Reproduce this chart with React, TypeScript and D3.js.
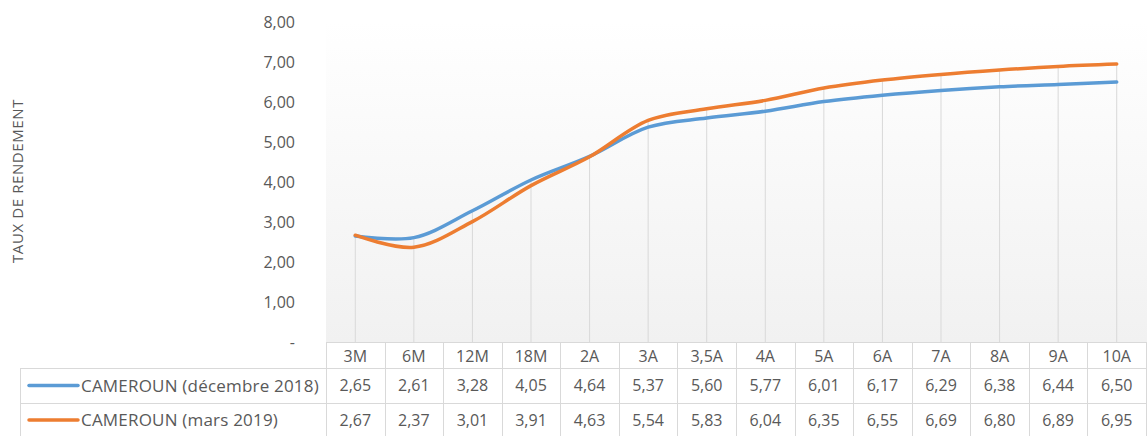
import { useEffect, useRef } from 'react';
import * as d3 from 'd3';

const categories = ['3M', '6M', '12M', '18M', '2A', '3A', '3,5A', '4A', '5A', '6A', '7A', '8A', '9A', '10A'];
const seriesNames = ['CAMEROUN (décembre 2018)', 'CAMEROUN (mars 2019)'];
const dec2018 = [2.65, 2.61, 3.28, 4.05, 4.64, 5.37, 5.6, 5.77, 6.01, 6.17, 6.29, 6.38, 6.44, 6.5];
const mar2019 = [2.67, 2.37, 3.01, 3.91, 4.63, 5.54, 5.83, 6.04, 6.35, 6.55, 6.69, 6.8, 6.89, 6.95];
const yTicks = [0, 1, 2, 3, 4, 5, 6, 7, 8];
const colors = ['#5b9bd5', '#ed7d31'];

const W = 1147;
const H = 436;
const FONT = '"Open Sans", sans-serif';
const TEXT = '#595959';
const GRID = '#d9d9d9';

const fmt = (v: number) => (v === 0 ? '-' : d3.format('.2f')(v).replace('.', ','));

export default function App() {
  const svgRef = useRef<SVGSVGElement>(null);

  useEffect(() => {
    if (!svgRef.current) return;
    const svg = d3.select(svgRef.current);
    svg.selectAll('*').remove();

    const left = 326;
    const top = 22;
    const bottom = 342;
    const tableLeft = 20;
    const rowH = [26, 35, 34];

    const x = d3.scaleBand<string>().domain(categories).range([left, W - 1]).padding(0);
    const y = d3.scaleLinear().domain([0, 8]).range([bottom, top]);
    const cx = (c: string) => (x(c) ?? 0) + x.bandwidth() / 2;

    const defs = svg.append('defs');
    const grad = defs.append('linearGradient').attr('id', 'bg').attr('x1', 0).attr('y1', 0).attr('x2', 0).attr('y2', 1);
    grad.append('stop').attr('offset', '0%').attr('stop-color', '#ffffff');
    grad.append('stop').attr('offset', '100%').attr('stop-color', '#f1f1f1');

    svg.append('rect').attr('x', left).attr('y', top).attr('width', W - left).attr('height', bottom - top).attr('fill', 'url(#bg)');

    // y axis labels
    svg
      .append('g')
      .selectAll('text')
      .data(yTicks)
      .enter()
      .append('text')
      .attr('x', 295)
      .attr('y', (d) => y(d))
      .attr('dy', '0.35em')
      .attr('text-anchor', 'end')
      .style('font-family', FONT)
      .style('font-size', '16px')
      .style('fill', TEXT)
      .text(fmt);

    svg
      .append('text')
      .attr('transform', `translate(23,181) rotate(-90)`)
      .attr('text-anchor', 'middle')
      .style('font-family', FONT)
      .style('font-size', '15px')
      .style('letter-spacing', '0.6px')
      .style('fill', TEXT)
      .text('TAUX DE RENDEMENT');

    // drop lines from the highest point to the axis
    svg
      .append('g')
      .selectAll('line')
      .data(categories)
      .enter()
      .append('line')
      .attr('x1', cx)
      .attr('x2', cx)
      .attr('y1', (_, i) => y(Math.max(dec2018[i], mar2019[i])))
      .attr('y2', bottom)
      .attr('stroke', GRID)
      .attr('stroke-width', 1);

    const line = d3
      .line<number>()
      .x((_, i) => cx(categories[i]))
      .y((d) => y(d))
      .curve(d3.curveCatmullRom.alpha(0.5));

    [dec2018, mar2019].forEach((s, k) => {
      svg
        .append('path')
        .datum(s)
        .attr('d', line)
        .attr('fill', 'none')
        .attr('stroke', colors[k])
        .attr('stroke-width', 3.5)
        .attr('stroke-linecap', 'round');
    });

    // data table
    const t = svg.append('g').attr('stroke', GRID).attr('stroke-width', 1).attr('shape-rendering', 'crispEdges');
    const r0 = bottom;
    const r1 = r0 + rowH[0];
    const r2 = r1 + rowH[1];
    const r3 = r2 + rowH[2];
    t.append('line').attr('x1', left).attr('x2', W).attr('y1', r0 + 0.5).attr('y2', r0 + 0.5);
    [r1, r2, r3].forEach((ry) => t.append('line').attr('x1', tableLeft).attr('x2', W).attr('y1', ry + 0.5).attr('y2', ry + 0.5));
    t.append('line').attr('x1', tableLeft + 0.5).attr('x2', tableLeft + 0.5).attr('y1', r1).attr('y2', r3);
    const bounds = categories.map((c) => x(c) ?? 0).concat([W - 1]);
    t.selectAll('.vb')
      .data(bounds)
      .enter()
      .append('line')
      .attr('x1', (d) => Math.round(d) + 0.5)
      .attr('x2', (d) => Math.round(d) + 0.5)
      .attr('y1', r0)
      .attr('y2', r3);

    const txt = svg.append('g').style('font-family', FONT).style('font-size', '16px').style('fill', TEXT);
    txt
      .selectAll('.cat')
      .data(categories)
      .enter()
      .append('text')
      .attr('x', cx)
      .attr('y', (r0 + r1) / 2 + 1)
      .attr('dy', '0.36em')
      .attr('text-anchor', 'middle')
      .text((d) => d);

    [dec2018, mar2019].forEach((s, k) => {
      const ry = k === 0 ? (r1 + r2) / 2 : (r2 + r3) / 2;
      txt
        .selectAll(`.v${k}`)
        .data(s)
        .enter()
        .append('text')
        .attr('x', (_, i) => cx(categories[i]))
        .attr('y', ry)
        .attr('dy', '0.36em')
        .attr('text-anchor', 'middle')
        .text((d) => fmt(d));
      svg
        .append('line')
        .attr('x1', 29)
        .attr('x2', 78)
        .attr('y1', ry)
        .attr('y2', ry)
        .attr('stroke', colors[k])
        .attr('stroke-width', 3.5)
        .attr('stroke-linecap', 'round');
      txt
        .append('text')
        .attr('x', 81)
        .attr('y', ry)
        .attr('dy', '0.36em')
        .style('font-size', '17px')
        .style('letter-spacing', '0.2px')
        .text(seriesNames[k]);
    });
  }, []);

  return (
    <svg
      ref={svgRef}
      width={W}
      height={H}
      style={{ position: 'absolute', left: 0, top: 0, background: '#fff' }}
    />
  );
}
